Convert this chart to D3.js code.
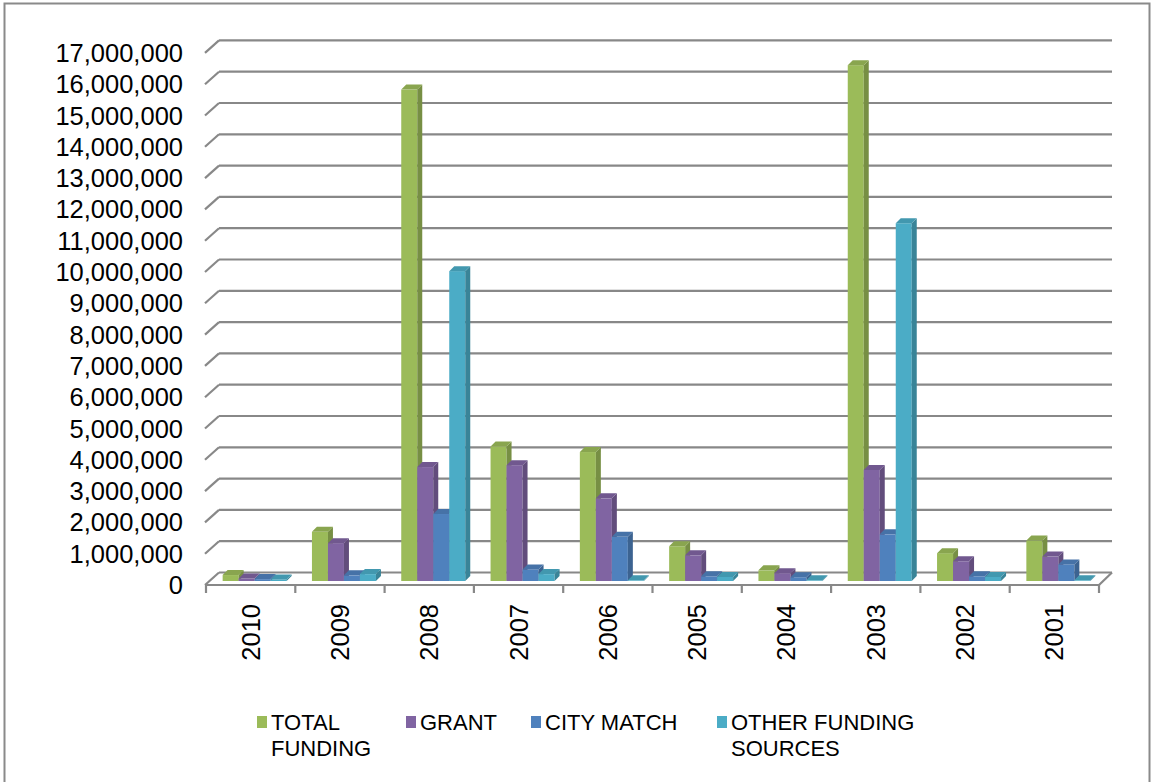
<!DOCTYPE html>
<html>
<head>
<meta charset="utf-8">
<script src="https://cdn.jsdelivr.net/npm/d3@7"></script>
<style>
  html, body { margin: 0; padding: 0; background: #fff; }
  svg { display: block; font-family: "Liberation Sans", Arial, sans-serif; }
</style>
</head>
<body>
<svg id="chart" width="1153" height="782"></svg>
<script>
// ---- data ----
const categories = ["2010", "2009", "2008", "2007", "2006", "2005", "2004", "2003", "2002", "2001"];
const seriesNames = ["TOTAL FUNDING", "GRANT", "CITY MATCH", "OTHER FUNDING SOURCES"];
const totalFunding = [190000, 1570000, 15700000, 4300000, 4120000, 1110000, 340000, 16480000, 890000, 1290000];
const grant = [80000, 1210000, 3640000, 3700000, 2640000, 820000, 250000, 3550000, 630000, 780000];
const cityMatch = [60000, 180000, 2140000, 370000, 1410000, 150000, 120000, 1490000, 150000, 530000];
const otherFunding = [50000, 220000, 9900000, 220000, 20000, 130000, 20000, 11430000, 130000, 20000];
const yTicks = [0, 1e6, 2e6, 3e6, 4e6, 5e6, 6e6, 7e6, 8e6, 9e6, 10e6, 11e6, 12e6, 13e6, 14e6, 15e6, 16e6, 17e6];
const legendLines = [["TOTAL", "FUNDING"], ["GRANT"], ["CITY MATCH"], ["OTHER FUNDING", "SOURCES"]];
const colors = ["#9BBB59", "#8064A2", "#4F81BD", "#4BACC6"];

const seriesValues = [totalFunding, grant, cityMatch, otherFunding];

// ---- layout ----
const svg = d3.select("#chart");
const frontLeft = 206, frontRight = 1099, frontBase = 585;
const depthX = 13, depthY = 12.5;
const barDepth = 5, barShift = 4;
const barW = 16;

const y = d3.scaleLinear().domain([0, 17e6]).range([frontBase, frontBase - 17 * 31.3]);
const x = d3.scaleBand().domain(categories).range([frontLeft, frontRight]).padding(0);
const xi = d3.scaleBand().domain(d3.range(seriesNames.length)).range([0, barW * 4]).padding(0);

// chart border
svg.append("rect")
  .attr("x", 4.5).attr("y", 3.5).attr("width", 1145).attr("height", 800)
  .attr("fill", "none").attr("stroke", "#8a8a8a").attr("stroke-width", 2);

const gridColor = "#888888";
// back wall gridlines + side diagonals
const grid = svg.append("g");
yTicks.forEach(v => {
  const yf = y(v);
  grid.append("line")
    .attr("x1", frontLeft + depthX).attr("x2", frontRight + depthX)
    .attr("y1", yf - depthY).attr("y2", yf - depthY)
    .attr("stroke", gridColor).attr("stroke-width", 2.2);
  grid.append("line")
    .attr("x1", frontLeft - 1).attr("y1", yf)
    .attr("x2", frontLeft + depthX).attr("y2", yf - depthY)
    .attr("stroke", gridColor).attr("stroke-width", 2.2);
});
// floor front edge and right diagonal
grid.append("line")
  .attr("x1", frontLeft - 1).attr("x2", frontRight).attr("y1", frontBase).attr("y2", frontBase)
  .attr("stroke", gridColor).attr("stroke-width", 2.2);
grid.append("line")
  .attr("x1", frontRight).attr("y1", frontBase)
  .attr("x2", frontRight + depthX).attr("y2", frontBase - depthY)
  .attr("stroke", gridColor).attr("stroke-width", 2.2);

// x ticks
const tickPositions = categories.map(c => x(c)).concat([frontRight]);
svg.append("g").selectAll("line").data(tickPositions).join("line")
  .attr("x1", d => d).attr("x2", d => d)
  .attr("y1", frontBase).attr("y2", frontBase + 8)
  .attr("stroke", gridColor).attr("stroke-width", 2.2);

// y labels
svg.append("g").selectAll("text").data(yTicks).join("text")
  .attr("x", 183).attr("y", d => y(d))
  .attr("text-anchor", "end").attr("dominant-baseline", "central")
  .attr("font-size", 25.5).attr("fill", "#000")
  .text(d => d3.format(",")(d));

// x labels
svg.append("g").selectAll("text").data(categories).join("text")
  .attr("transform", d => `translate(${x(d) + x.bandwidth() / 2},604) rotate(-90)`)
  .attr("text-anchor", "end").attr("dominant-baseline", "central")
  .attr("font-size", 25.5).attr("fill", "#000")
  .text(d => d);

// bars (3D)
const barsG = svg.append("g");
const barBase = frontBase - barShift;
categories.forEach((cat, ci) => {
  const gx = x(cat) + (x.bandwidth() - barW * 4) / 2 + barShift;
  seriesValues.forEach((vals, si) => {
    const v = vals[ci];
    const x0 = gx + xi(si);
    const x1 = x0 + barW;
    const yTop = y(v) - barShift;
    const col = d3.color(colors[si]);
    const side = col.darker(0.75).formatHex();
    const top = col.darker(0.35).formatHex();
    const d = barDepth;
    barsG.append("rect")
      .attr("x", x0).attr("y", yTop).attr("width", barW).attr("height", Math.max(0, barBase - yTop))
      .attr("fill", colors[si]);
    barsG.append("path")
      .attr("d", `M${x1},${barBase} L${x1 + d},${barBase - d} L${x1 + d},${yTop - d} L${x1},${yTop} Z`)
      .attr("fill", side);
    barsG.append("path")
      .attr("d", `M${x0},${yTop} L${x0 + d},${yTop - d} L${x1 + d},${yTop - d} L${x1},${yTop} Z`)
      .attr("fill", top);
  });
});

// legend
const legendX = [257, 406, 531, 717];
const legend = svg.append("g");
seriesNames.forEach((name, i) => {
  const g = legend.append("g").attr("transform", `translate(${legendX[i]},722)`);
  g.append("rect").attr("x", 0).attr("y", -6).attr("width", 10).attr("height", 12).attr("fill", colors[i]);
  const t = g.append("text").attr("x", 14).attr("y", 0)
    .attr("font-size", 22).attr("fill", "#000").attr("dominant-baseline", "central");
  legendLines[i].forEach((line, li) => {
    t.append("tspan").attr("x", 14).attr("dy", li === 0 ? 0 : 26).text(line);
  });
});
</script>
</body>
</html>
